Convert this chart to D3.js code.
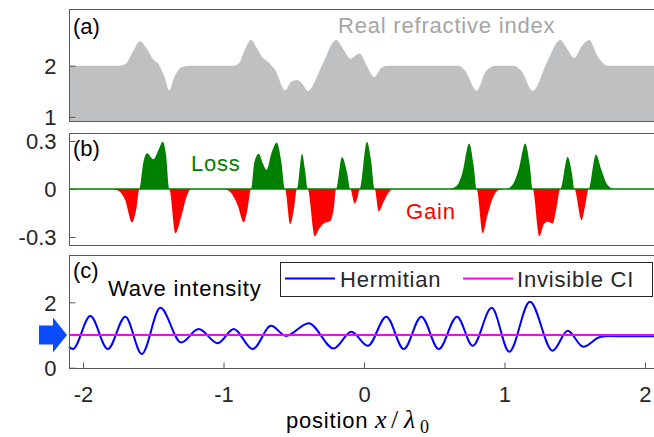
<!DOCTYPE html>
<html>
<head>
<meta charset="utf-8">
<script src="https://cdn.jsdelivr.net/npm/d3@7"></script>
<style>
  html, body { margin: 0; padding: 0; background: #fff; }
  svg { display: block; }
</style>
</head>
<body>
<div id="chart"></div>
<script>
// x tick values shared by all three panels
const xTicks = [-2, -1, 0, 1, 2];

// (a) real refractive index, [position, n]
const realIndex = [
  [-2.1, 2], [-1.75, 2], [-1.70, 2.03], [-1.65, 2.25], [-1.594, 2.48], [-1.55, 2.35],
  [-1.50, 2.12], [-1.46, 2.02], [-1.42, 1.78], [-1.386, 1.52], [-1.35, 1.78], [-1.30, 1.97],
  [-1.243, 2.0], [-0.935, 2.0], [-0.89, 2.05], [-0.85, 2.3], [-0.804, 2.5], [-0.76, 2.33],
  [-0.726, 2.17], [-0.68, 2.07], [-0.631, 1.91], [-0.56, 1.52], [-0.52, 1.68], [-0.477, 1.72],
  [-0.44, 1.65], [-0.399, 1.51], [-0.30, 2.0], [-0.199, 2.5], [-0.15, 2.33], [-0.098, 2.14],
  [-0.031, 2.24], [0.02, 2.0], [0.073, 1.78], [0.12, 1.95], [0.164, 2.0], [0.676, 2.0],
  [0.72, 1.9], [0.802, 1.51], [0.87, 1.9], [0.94, 2.0], [1.058, 2.0], [1.12, 1.9],
  [1.201, 1.51], [1.30, 2.05], [1.397, 2.5], [1.44, 2.35], [1.497, 2.15], [1.55, 2.38],
  [1.604, 2.5], [1.66, 2.2], [1.734, 2.0], [2.1, 2.0]
];
const realTicks = [1, 2];

// (b) imaginary part: positive = loss, negative = gain
const imagIndex = [
  [-2.1, 0], [-1.80, 0], [-1.75, -0.01], [-1.70, -0.07], [-1.651, -0.208], [-1.62, -0.12],
  [-1.599, 0], [-1.57, 0.17], [-1.544, 0.223], [-1.50, 0.186], [-1.46, 0.25], [-1.433, 0.296],
  [-1.41, 0.22], [-1.386, 0], [-1.343, -0.277], [-1.30, -0.17], [-1.26, -0.04], [-1.231, 0],
  [-1.00, 0], [-0.95, -0.02], [-0.90, -0.10], [-0.856, -0.208], [-0.83, -0.13], [-0.804, 0],
  [-0.78, 0.17], [-0.749, 0.22], [-0.72, 0.16], [-0.693, 0.12], [-0.66, 0.22], [-0.621, 0.29],
  [-0.59, 0.18], [-0.562, 0], [-0.525, -0.22], [-0.50, -0.13], [-0.477, 0], [-0.441, 0.22],
  [-0.42, 0.12], [-0.401, 0], [-0.351, -0.295], [-0.32, -0.25], [-0.287, -0.215], [-0.24, -0.20],
  [-0.215, -0.12], [-0.199, 0], [-0.157, 0.20], [-0.12, 0.10], [-0.098, 0], [-0.066, -0.09],
  [-0.045, -0.05], [-0.031, 0], [0.021, 0.296], [0.05, 0.18], [0.076, 0], [0.105, -0.14],
  [0.14, -0.08], [0.17, -0.03], [0.211, 0], [0.60, 0], [0.66, 0.02], [0.70, 0.10],
  [0.749, 0.285], [0.78, 0.15], [0.802, 0], [0.845, -0.277], [0.88, -0.16], [0.92, -0.05],
  [0.963, -0.005], [1.011, 0], [1.06, 0.03], [1.10, 0.12], [1.148, 0.285], [1.18, 0.15],
  [1.201, 0], [1.248, -0.295], [1.28, -0.22], [1.307, -0.205], [1.343, -0.215], [1.37, -0.12],
  [1.397, 0], [1.450, 0.20], [1.48, 0.10], [1.497, 0], [1.549, -0.195], [1.575, -0.10],
  [1.599, 0], [1.651, 0.215], [1.69, 0.12], [1.73, 0.03], [1.781, 0], [2.1, 0]
];
const imagTicks = [-0.3, 0, 0.3];

// (c) wave intensity
const hermitian = [
  [-2.1, 0.64], [-2.073, 0.57], [-1.948, 1.58], [-1.824, 0.57], [-1.699, 1.56], [-1.582, 0.42],
  [-1.450, 1.83], [-1.302, 0.77], [-1.177, 1.18], [-1.041, 0.75], [-0.927, 1.18], [-0.792, 0.57],
  [-0.662, 1.28], [-0.555, 0.97], [-0.394, 1.36], [-0.216, 0.59], [-0.090, 1.10], [0.028, 0.67],
  [0.159, 1.56], [0.283, 0.57], [0.408, 1.56], [0.532, 0.57], [0.662, 1.56], [0.774, 0.67],
  [0.909, 1.83], [1.034, 0.49], [1.181, 2.02], [1.343, 0.52], [1.450, 1.13], [1.561, 0.64],
  [1.675, 0.93], [1.746, 0.97], [1.85, 0.96], [2.1, 0.96]
];
const invisibleCI = [[-2.1, 1], [2.1, 1]];
const waveTicks = [0, 2];

const width = 654, height = 437;
const font = "'Liberation Sans', Arial, sans-serif";
const mathFont = "'Liberation Serif', 'Times New Roman', serif";
const textColor = "#262626";

// plain hyphen for negatives, like the original figure
const hyphen = fmt => d => fmt(d).replace("\u2212", "-");

const svg = d3.select("#chart").append("svg")
  .attr("width", width)
  .attr("height", height);

const x = d3.scaleLinear().domain([-2.1, 2.1]).range([69, 659]);
const yA = d3.scaleLinear().domain([0.92, 3.1]).range([121, 9.4]);
const yB = d3.scaleLinear().domain([-0.35, 0.35]).range([245, 133]);
const yC = d3.scaleLinear().domain([0, 3.45]).range([367.7, 254.9]);

function frame(y) {
  const [y0, y1] = y.range();
  svg.append("rect")
    .attr("x", x.range()[0] + 0.5)
    .attr("y", Math.round(y1) + 0.5)
    .attr("width", x.range()[1] - x.range()[0])
    .attr("height", Math.round(y0) - Math.round(y1))
    .attr("fill", "none")
    .attr("stroke", "#5a5a5a")
    .attr("stroke-width", 1);
}

function leftAxis(y, ticks, fmt) {
  const g = svg.append("g")
    .attr("transform", `translate(${x.range()[0] + 0.5},0)`)
    .call(d3.axisLeft(y).tickValues(ticks).tickSize(-6).tickPadding(13).tickFormat(fmt));
  g.select(".domain").remove();
  g.attr("font-family", font).attr("font-size", 22);
  g.selectAll("line").attr("stroke", "#5a5a5a");
  g.selectAll("text").attr("fill", textColor).attr("dy", "0.36em");
}

function panelLabel(txt, y) {
  svg.append("text")
    .attr("x", 73).attr("y", y)
    .attr("font-family", font).attr("font-size", 22)
    .attr("fill", "#000")
    .text(txt);
}

// ---------- (a) ----------
svg.append("path")
  .datum(realIndex)
  .attr("fill", "#bfc0c2")
  .attr("d", d3.area()
    .x(d => x(d[0]))
    .y0(yA(0.92))
    .y1(d => yA(d[1]))
    .curve(d3.curveMonotoneX));

frame(yA);
leftAxis(yA, realTicks, d3.format("d"));
panelLabel("(a)", 34);

svg.append("text")
  .attr("x", 338).attr("y", 33)
  .attr("font-family", font).attr("font-size", 22)
  .attr("letter-spacing", 0.8)
  .attr("fill", "#a5a5a5")
  .text("Real refractive index");

// ---------- (b) ----------
const imagArea = (fn) => d3.area()
  .x(d => x(d[0]))
  .y0(yB(0))
  .y1(d => yB(fn(d[1])))
  .curve(d3.curveMonotoneX);

svg.append("path")
  .datum(imagIndex)
  .attr("fill", "#ff0000")
  .attr("d", imagArea(v => Math.min(v, 0)));

svg.append("path")
  .datum(imagIndex)
  .attr("fill", "#008000")
  .attr("d", imagArea(v => Math.max(v, 0)));

svg.append("line")
  .attr("x1", x(-2.1)).attr("x2", x(2.1))
  .attr("y1", yB(0)).attr("y2", yB(0))
  .attr("stroke", "#008000")
  .attr("stroke-width", 1.6);

frame(yB);
leftAxis(yB, imagTicks, hyphen(d => d === 0 ? "0" : d3.format(".1f")(d)));
panelLabel("(b)", 156);

svg.append("text")
  .attr("x", 191).attr("y", 171)
  .attr("font-family", font).attr("font-size", 22)
  .attr("letter-spacing", 0.8)
  .attr("fill", "#008000")
  .text("Loss");

svg.append("text")
  .attr("x", 406).attr("y", 219)
  .attr("font-family", font).attr("font-size", 22)
  .attr("letter-spacing", 0.8)
  .attr("fill", "#ff0000")
  .text("Gain");

// ---------- (c) ----------
const waveLine = d3.line()
  .x(d => x(d[0]))
  .y(d => yC(d[1]))
  .curve(d3.curveMonotoneX);

svg.append("path")
  .datum(hermitian)
  .attr("fill", "none")
  .attr("stroke", "#0000ff")
  .attr("stroke-width", 2)
  .attr("d", waveLine);

svg.append("path")
  .datum(invisibleCI)
  .attr("fill", "none")
  .attr("stroke", "#ff00ff")
  .attr("stroke-width", 2)
  .attr("d", waveLine);

frame(yC);
leftAxis(yC, waveTicks, d3.format("d"));
panelLabel("(c)", 278);

const xAxis = svg.append("g")
  .attr("transform", `translate(0,${Math.round(yC(0)) + 0.5})`)
  .call(d3.axisBottom(x).tickValues(xTicks).tickSize(-6).tickPadding(18).tickFormat(hyphen(d3.format("d"))));
xAxis.select(".domain").remove();
xAxis.attr("font-family", font).attr("font-size", 22);
xAxis.selectAll("line").attr("stroke", "#5a5a5a");
xAxis.selectAll("text").attr("fill", textColor);

svg.append("text")
  .attr("x", 108).attr("y", 296)
  .attr("font-family", font).attr("font-size", 22)
  .attr("letter-spacing", 0.8)
  .attr("fill", "#000")
  .text("Wave intensity");

// incoming wave arrow, tip on intensity 1
const ay = yC(1);
svg.append("path")
  .attr("fill", "#0a4bff")
  .attr("d", `M39,${ay - 9.5} L53,${ay - 9.5} L53,${ay - 17.5} L67,${ay} L53,${ay + 17.5} L53,${ay + 9.5} L39,${ay + 9.5} Z`);

// legend
const legend = svg.append("g");
legend.append("rect")
  .attr("x", 280.5).attr("y", 262.5)
  .attr("width", 372).attr("height", 34)
  .attr("fill", "#fff")
  .attr("stroke", "#262626")
  .attr("stroke-width", 1);

const legendItems = [
  { label: "Hermitian", color: "#0000ff", x0: 285, x1: 335, tx: 340 },
  { label: "Invisible CI", color: "#ff00ff", x0: 463, x1: 513, tx: 517 }
];
legendItems.forEach(d => {
  legend.append("line")
    .attr("x1", d.x0).attr("x2", d.x1)
    .attr("y1", 278.5).attr("y2", 278.5)
    .attr("stroke", d.color)
    .attr("stroke-width", 2);
  legend.append("text")
    .attr("x", d.tx).attr("y", 286.5)
    .attr("font-family", font).attr("font-size", 22)
    .attr("letter-spacing", 0.8)
    .attr("fill", textColor)
    .text(d.label);
});

// x label: position x/λ0
const xl = svg.append("text")
  .attr("y", 428)
  .attr("font-family", font).attr("font-size", 22)
  .attr("fill", "#000");
xl.append("tspan").attr("x", 286).attr("letter-spacing", 0.8).text("position");
xl.append("tspan").attr("x", 375).attr("font-family", mathFont).attr("font-style", "italic").attr("font-size", 26).text("x");
xl.append("tspan").attr("x", 391).attr("font-family", mathFont).attr("font-size", 26).text("/");
xl.append("tspan").attr("x", 404).attr("font-family", mathFont).attr("font-style", "italic").attr("font-size", 26).text("λ");
xl.append("tspan").attr("x", 420).attr("dy", 5).attr("font-family", mathFont).attr("font-size", 18).text("0");
</script>
</body>
</html>
